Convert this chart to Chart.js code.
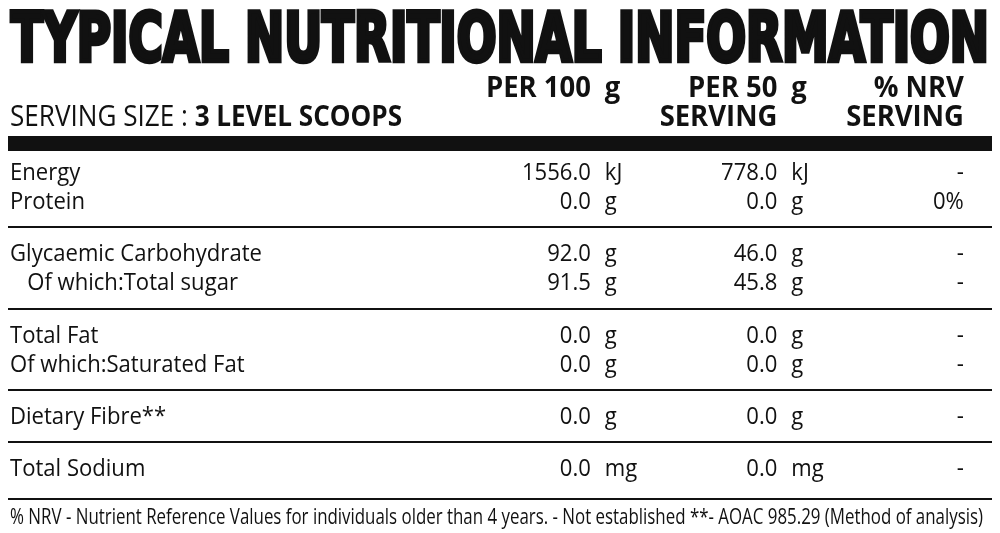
<!DOCTYPE html>
<html>
<head>
<meta charset="utf-8">
<script src="https://cdn.jsdelivr.net/npm/chart.js@4"></script>
<style>
  html, body { margin: 0; padding: 0; background: #fff; }
  canvas { display: block; }
</style>
</head>
<body>
<canvas id="label" width="1000" height="533"></canvas>
<script>
const title = 'TYPICAL NUTRITIONAL INFORMATION';
const servingLabel = 'SERVING SIZE : ';
const servingValue = '3 LEVEL SCOOPS';
const footnote = '% NRV - Nutrient Reference Values for individuals older than 4 years. - Not established **- AOAC 985.29 (Method of analysis)';

const nutrients = ['Energy', 'Protein', 'Glycaemic Carbohydrate', '   Of which:Total sugar',
    'Total Fat', 'Of which:Saturated Fat', 'Dietary Fibre**', 'Total Sodium'];
const rowGroups = [2, 2, 2, 1, 1];
const units = ['kJ', 'g', 'g', 'g', 'g', 'g', 'g', 'mg'];
const per100 = [1556.0, 0.0, 92.0, 91.5, 0.0, 0.0, 0.0, 0.0];
const perServing = [778.0, 0.0, 46.0, 45.8, 0.0, 0.0, 0.0, 0.0];
const nrvServing = [null, 0, null, null, null, null, null, null];
const headTop = ['PER 100', 'PER 50', '% NRV'];
const headUnit = ['g', 'g', ''];
const headBottom = ['', 'SERVING', 'SERVING'];

const INK = '#111';
const SX = 0.92; // condensed look
const GAP = 0.8;

// row positions on the y scale (1 unit = one line)
const rowPos = [];
const separators = [];
let p = 0;
rowGroups.forEach((n, g) => {
    for (let i = 0; i < n; i++) { rowPos.push(p); p += 1; }
    const last = rowPos[rowPos.length - 1];
    separators.push(g === rowGroups.length - 1 ? last + 0.78 : last + 0.63);
    p += GAP;
});
const THICK = -1.26;

function txt(ctx, s, x, y, align, font, sx) {
    ctx.save();
    ctx.font = font;
    ctx.textAlign = align;
    ctx.textBaseline = 'alphabetic';
    ctx.fillStyle = INK;
    ctx.translate(x, y);
    ctx.scale(sx === undefined ? SX : sx, 1);
    ctx.fillText(s, 0, 0);
    ctx.restore();
}

const fmt = (v) => v.toFixed(1);

const tablePlugin = {
    id: 'tableText',
    afterDatasetsDraw(chart) {
        const ctx = chart.ctx;
        const xs = chart.scales.x;
        const ys = chart.scales.y;
        const left = chart.chartArea.left + 2;
        const body = '24px "Open Sans"';
        const head = 'bold 28px "Open Sans"';

        // title
        ctx.save();
        ctx.font = 'bold 68px "DejaVu Sans Condensed", "DejaVu Sans"';
        ctx.textBaseline = 'alphabetic';
        ctx.fillStyle = INK;
        ctx.strokeStyle = INK;
        ctx.lineWidth = 4.5;
        ctx.lineJoin = 'miter';
        const tw = chart.chartArea.right - chart.chartArea.left - 6;
        const ty = ys.getPixelForValue(-4.1);
        ctx.fillText(title, left + 1, ty, tw);
        ctx.strokeText(title, left + 1, ty, tw);
        ctx.restore();

        // column heads
        const h1 = ys.getPixelForValue(-2.86);
        const h2 = ys.getPixelForValue(-1.86);
        headTop.forEach((s, c) => {
            const x = xs.getPixelForValue(c + 1);
            txt(ctx, s, x, h1, 'right', head, 0.98);
            if (headUnit[c]) txt(ctx, headUnit[c], x + 14, h1, 'left', head, 0.98);
            if (headBottom[c]) txt(ctx, headBottom[c], x, h2, 'right', head, 0.98);
        });

        // serving size
        ctx.save();
        ctx.font = '29px "Open Sans"';
        const w1 = ctx.measureText(servingLabel).width * 0.9;
        ctx.restore();
        txt(ctx, servingLabel, left, h2, 'left', '29px "Open Sans"', 0.9);
        txt(ctx, servingValue, left + w1, h2, 'left', 'bold 29px "Open Sans"', 0.9);

        // rows from the dataset points
        const cols = [0, 1, 2].map((i) => chart.getDatasetMeta(i).data);
        nutrients.forEach((name, i) => {
            const y = cols[0][i].y;
            txt(ctx, name, left, y, 'left', body);
            txt(ctx, fmt(per100[i]), cols[0][i].x, y, 'right', body);
            txt(ctx, units[i], cols[0][i].x + 14, y, 'left', body);
            txt(ctx, fmt(perServing[i]), cols[1][i].x, y, 'right', body);
            txt(ctx, units[i], cols[1][i].x + 14, y, 'left', body);
            const n = nrvServing[i];
            txt(ctx, n === null ? '-' : n + '%', cols[2][i].x, y, 'right', body);
        });

        // footnote
        ctx.save();
        ctx.font = '21px "Open Sans"';
        ctx.fillStyle = INK;
        ctx.textBaseline = 'alphabetic';
        ctx.fillText(footnote, left, ys.getPixelForValue(11.86), 973);
        ctx.restore();
    }
};

const makeSet = (col, values) => ({
    data: values.map((v, i) => ({ x: col, y: rowPos[i] })),
    pointRadius: 0,
    showLine: false
});

new Chart(document.getElementById('label'), {
    type: 'scatter',
    data: {
        datasets: [makeSet(1, per100), makeSet(2, perServing), makeSet(3, nrvServing)]
    },
    options: {
        responsive: false,
        animation: false,
        layout: { padding: { left: 8, right: 8, top: 136, bottom: 33 } },
        plugins: { legend: { display: false }, tooltip: { enabled: false } },
        scales: {
            x: { type: 'linear', display: false, min: -2.125, max: 3.151 },
            y: {
                type: 'linear',
                reverse: true,
                min: -1.52,
                max: 11.03,
                afterFit: (s) => { s.width = 0; },
                afterBuildTicks: (s) => {
                    s.ticks = [THICK, ...separators].map((v) => ({ value: v }));
                },
                ticks: { display: false },
                border: { display: false },
                grid: {
                    drawTicks: false,
                    color: INK,
                    lineWidth: (c) => (c.tick && c.tick.value === THICK ? 15 : 2)
                }
            }
        }
    },
    plugins: [tablePlugin]
});
</script>
</body>
</html>
